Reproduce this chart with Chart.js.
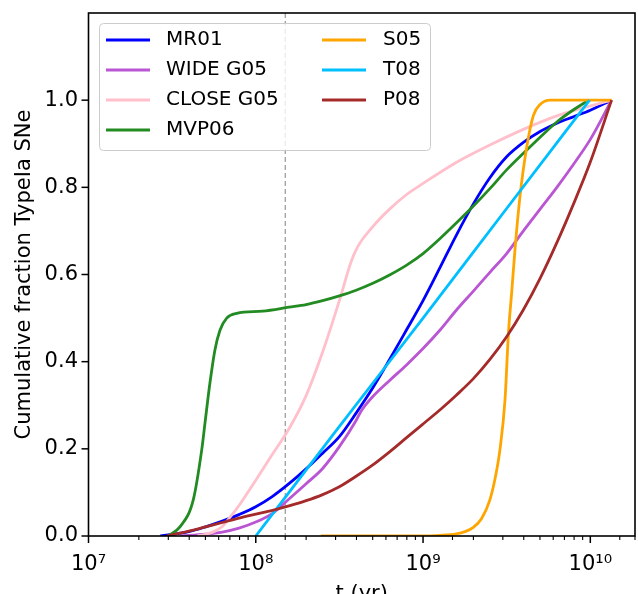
<!DOCTYPE html>
<html><head><meta charset="utf-8">
<script src="https://cdn.jsdelivr.net/npm/chart.js@4.4.1/dist/chart.umd.min.js"></script>
<style>html,body{margin:0;padding:0;background:#fff}</style>
</head><body>
<canvas id="c" width="638" height="594"></canvas>
<script>
// ---- data (t in years, cumulative fraction) ----
const seriesNames  = ['MR01','WIDE G05','CLOSE G05','MVP06','S05','T08','P08'];
const seriesColors = ['#0000ff','#ba55d3','#ffc0cb','#228b22','#ffa500','#00bfff','#a52a2a'];

const mr01_t = [2.69e7,3.98e7,5.01e7,6.31e7,7.94e7,1.00e8,1.26e8,1.58e8,2.00e8,2.51e8,3.16e8,3.98e8,5.01e8,6.31e8,7.94e8,1.00e9,1.26e9,1.58e9,2.00e9,2.51e9,3.16e9,3.98e9,5.01e9,6.31e9,7.94e9,1.00e10,1.34e10];
const mr01_f = [0,0.010,0.021,0.034,0.049,0.067,0.091,0.120,0.154,0.190,0.228,0.282,0.340,0.405,0.472,0.540,0.615,0.690,0.762,0.822,0.870,0.903,0.928,0.947,0.962,0.977,1.0];

const wide_t = [3.55e7,5.01e7,6.31e7,7.94e7,1.00e8,1.26e8,1.58e8,2.00e8,2.51e8,3.16e8,3.98e8,4.27e8,5.01e8,6.31e8,7.94e8,1.00e9,1.26e9,1.58e9,2.00e9,2.51e9,3.16e9,3.98e9,5.01e9,6.31e9,7.94e9,1.00e10,1.34e10];
const wide_f = [0,0.004,0.009,0.018,0.032,0.052,0.085,0.120,0.155,0.205,0.265,0.287,0.320,0.357,0.392,0.430,0.472,0.518,0.562,0.605,0.648,0.700,0.750,0.800,0.853,0.910,1.0];

const close_t = [4.47e7,5.01e7,5.62e7,6.31e7,7.08e7,7.94e7,1.00e8,1.26e8,1.58e8,2.00e8,2.51e8,3.16e8,3.72e8,4.07e8,5.01e8,6.31e8,7.94e8,1.00e9,1.58e9,2.51e9,3.98e9,6.31e9,1.34e10];
const close_f = [0,0.004,0.010,0.022,0.045,0.070,0.128,0.188,0.246,0.322,0.422,0.540,0.630,0.664,0.710,0.750,0.783,0.809,0.857,0.897,0.933,0.964,1.0];

const mvp_t = [2.99e7,3.52e7,4.23e7,4.75e7,4.97e7,5.32e7,5.70e7,6.11e7,6.70e7,7.69e7,1.10e8,1.58e8,2.00e8,2.51e8,3.16e8,3.98e8,5.01e8,6.31e8,7.94e8,1.00e9,1.26e9,1.58e9,2.00e9,2.51e9,3.16e9,3.98e9,5.01e9,6.31e9,7.94e9,9.8e9];
const mvp_f = [0,0.021,0.083,0.197,0.259,0.351,0.427,0.472,0.500,0.511,0.516,0.525,0.531,0.540,0.551,0.564,0.580,0.599,0.621,0.648,0.682,0.718,0.757,0.797,0.840,0.878,0.915,0.950,0.978,1.0];

const s05_t = [2.45e8,1.00e9,1.26e9,1.58e9,1.78e9,2.00e9,2.24e9,2.51e9,2.69e9,2.88e9,3.09e9,3.24e9,3.39e9,3.55e9,3.80e9,4.17e9,4.57e9,5.01e9,5.75e9,1.34e10];
const s05_f = [0,0,0.0015,0.005,0.010,0.020,0.040,0.083,0.130,0.197,0.312,0.465,0.560,0.660,0.780,0.893,0.965,0.990,1.0,1.0];

const t08_t = [1.0e8,3.0e8,1.0e9,3.0e9,9.9e9];
const t08_f = [0,0.24,0.50,0.74,1.0];

const p08_t = [2.93e7,3.98e7,5.01e7,6.31e7,7.94e7,1.00e8,1.26e8,1.58e8,2.00e8,2.51e8,3.16e8,3.98e8,5.01e8,6.31e8,7.94e8,1.00e9,1.26e9,1.58e9,2.00e9,2.51e9,3.16e9,3.98e9,5.01e9,6.31e9,7.94e9,1.00e10,1.34e10];
const p08_f = [0,0.011,0.021,0.031,0.041,0.050,0.059,0.069,0.081,0.095,0.113,0.137,0.163,0.193,0.225,0.257,0.289,0.323,0.361,0.405,0.457,0.519,0.591,0.673,0.762,0.858,1.0];

const seriesT = [mr01_t, wide_t, close_t, mvp_t, s05_t, t08_t, p08_t];
const seriesF = [mr01_f, wide_f, close_f, mvp_f, s05_f, t08_f, p08_f];

const xMajorTicks = [1e7,1e8,1e9,1e10];
const yTickValues = [0,0.2,0.4,0.6,0.8,1.0];
const markerTime = 1.5e8;

const FONT = '"DejaVu Sans", sans-serif';
const SUP = {'0':'⁰','1':'¹','2':'²','3':'³','4':'⁴','5':'⁵','6':'⁶','7':'⁷','8':'⁸','9':'⁹','-':'⁻'};
function isMajor(v){ return xMajorTicks.some(m => Math.abs(v/m - 1) < 1e-6); }
function powLabel(v){ const e = Math.round(Math.log10(v)); return '10' + String(e).split('').map(c=>SUP[c]).join(''); }

const datasets = seriesNames.map((name,i)=>({
  label: name,
  data: seriesT[i].map((t,k)=>({x:t, y:seriesF[i][k]})),
  borderColor: seriesColors[i],
  backgroundColor: seriesColors[i],
  borderWidth: 2.8,
  pointRadius: 0,
  fill: false,
  cubicInterpolationMode: 'monotone',
  order: seriesNames.length - i
}));

const decor = {
  id: 'decor',
  beforeDatasetsDraw(chart){
    const {ctx, chartArea:a, scales:{x}} = chart;
    const px = x.getPixelForValue(markerTime);
    ctx.save();
    ctx.strokeStyle = '#808080'; ctx.lineWidth = 1; ctx.setLineDash([5,3]);
    ctx.beginPath(); ctx.moveTo(px, a.top); ctx.lineTo(px, a.bottom); ctx.stroke();
    ctx.restore();
  },
  afterDatasetsDraw(chart){
    const {ctx, chartArea:a, scales:{x,y}} = chart;
    ctx.save();
    // legend
    const bx=99.5, by=23.5, bw=331, bh=127;
    ctx.beginPath(); ctx.roundRect(bx,by,bw,bh,4);
    ctx.fillStyle='rgba(255,255,255,0.8)'; ctx.fill();
    ctx.strokeStyle='#cccccc'; ctx.lineWidth=1; ctx.stroke();
    const cols=[{lx:106,tx:166},{lx:322,tx:383}];
    chart.data.datasets.forEach((ds,i)=>{
      const c = i<4?0:1, r = i<4?i:i-4;
      const yy = 40 + r*30;
      ctx.strokeStyle = ds.borderColor; ctx.lineWidth = 2.8; ctx.setLineDash([]);
      ctx.beginPath(); ctx.moveTo(cols[c].lx, yy); ctx.lineTo(cols[c].lx+44, yy); ctx.stroke();
      ctx.fillStyle='#000'; ctx.font='20px '+FONT; ctx.textBaseline='middle'; ctx.textAlign='left';
      ctx.fillText(ds.label, cols[c].tx, yy);
    });
    // frame
    ctx.strokeStyle='#000'; ctx.lineWidth=1.6;
    ctx.strokeRect(a.left, a.top, a.right-a.left, a.bottom-a.top);
    // ticks
    ctx.lineWidth=1.5;
    y.ticks.forEach(t=>{
      const py = y.getPixelForValue(t.value);
      ctx.beginPath(); ctx.moveTo(a.left-7, py); ctx.lineTo(a.left, py); ctx.stroke();
    });
    x.ticks.forEach(t=>{
      const v = t.value;
      if (v < x.min*0.999 || v > x.max*1.001) return;
      const px = x.getPixelForValue(v);
      const L = isMajor(v) ? 7 : 4;
      ctx.lineWidth = isMajor(v) ? 1.5 : 1.1;
      ctx.beginPath(); ctx.moveTo(px, a.bottom); ctx.lineTo(px, a.bottom+L); ctx.stroke();
    });
    // axis titles
    ctx.fillStyle='#000'; ctx.font='21px '+FONT;
    ctx.textAlign='center'; ctx.textBaseline='alphabetic';
    ctx.fillText('t (yr)', (a.left+a.right)/2, 600);
    ctx.translate(29.5, (a.top+a.bottom)/2);
    ctx.rotate(-Math.PI/2);
    ctx.fillText('Cumulative fraction TypeIa SNe', 0, 0);
    ctx.restore();
  }
};

function noPad(s){ s.paddingTop = 0; s.paddingBottom = 0; s.paddingLeft = 0; s.paddingRight = 0; }

new Chart(document.getElementById('c'), {
  type: 'line',
  data: { datasets },
  options: {
    responsive: false,
    animation: false,
    layout: { padding: { top: 13, right: 3, left: 0, bottom: 0 } },
    plugins: { legend: { display: false }, tooltip: { enabled: false } },
    scales: {
      x: {
        type: 'logarithmic',
        min: 1e7, max: 1.85e10,
        grid: { display: false, drawTicks: false },
        border: { display: false },
        afterFit: s => { s.height = 58; noPad(s); },
        ticks: {
          autoSkip: false, maxRotation: 0, minRotation: 0,
          padding: 16, color: '#000',
          font: { family: FONT, size: 21 },
          callback: v => isMajor(v) ? powLabel(v) : ''
        }
      },
      y: {
        type: 'linear',
        min: 0, max: 1.2,
        grid: { display: false, drawTicks: false },
        border: { display: false },
        afterFit: s => { s.width = 88.5; noPad(s); },
        afterBuildTicks: s => { s.ticks = yTickValues.map(v => ({value: v})); },
        ticks: {
          padding: 10.5, color: '#000',
          font: { family: FONT, size: 21 },
          callback: v => v.toFixed(1)
        }
      }
    }
  },
  plugins: [decor]
});
</script>
</body></html>
